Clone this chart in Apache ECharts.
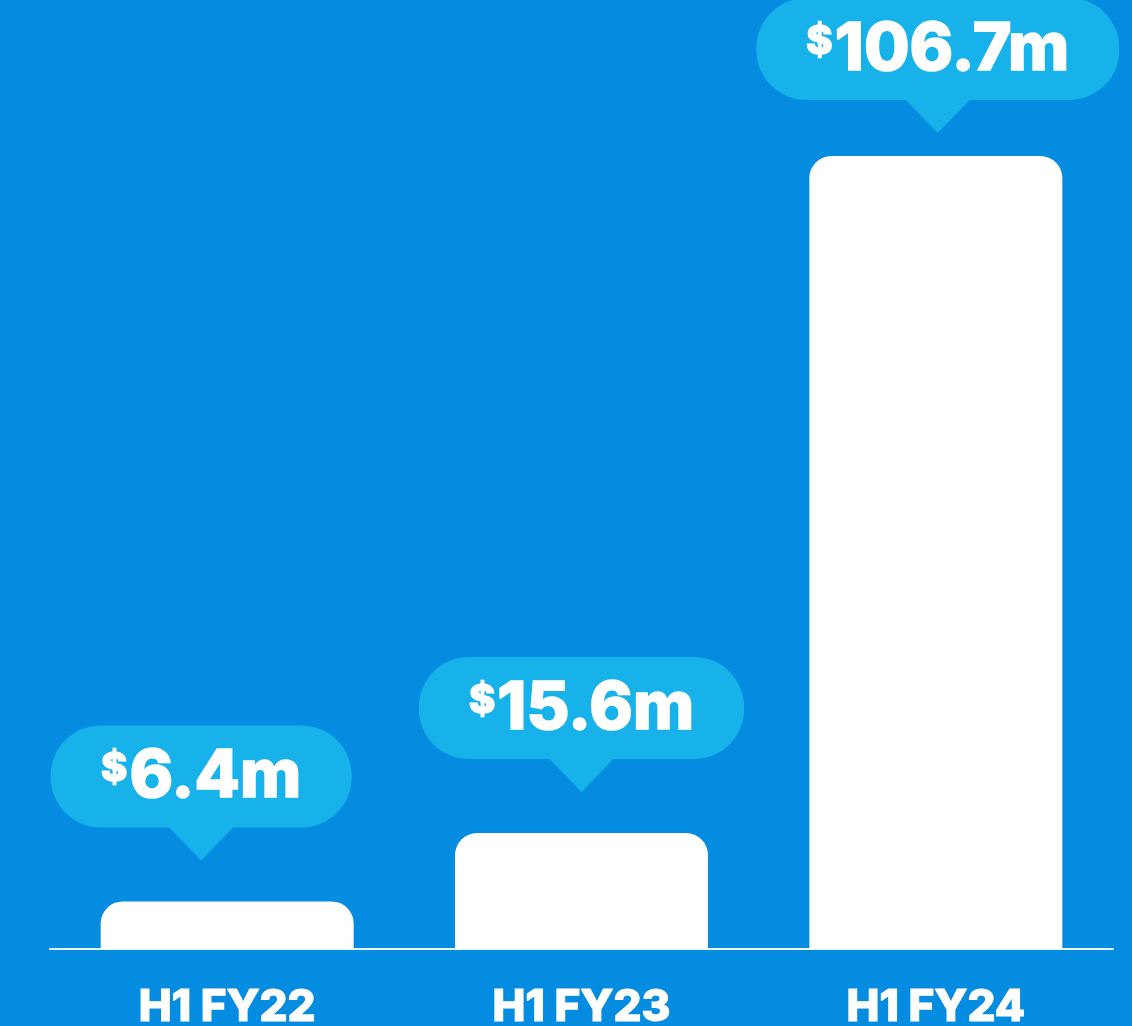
<!DOCTYPE html>
<html>
<head>
<meta charset="utf-8">
<script src="https://cdn.jsdelivr.net/npm/echarts@6/dist/echarts.min.js"></script>
<style>
  html, body { margin: 0; padding: 0; background: #048ce0; }
  #chart { width: 1132px; height: 1026px; }
</style>
</head>
<body>
<div id="chart"></div>
<script>
// data
var categories = ['H1 FY22', 'H1 FY23', 'H1 FY24'];
var values = [6.4, 15.6, 106.7];
var currency = '$';
var unit = 'm';

var FONT = 'Inter';
var WEIGHT = 800;
// small horizontal nudge of each callout, like in the original artwork
var calloutDx = [-26, 0, 2];

var measureCtx = document.createElement('canvas').getContext('2d');
function textWidth(txt, size) {
  measureCtx.font = WEIGHT + ' ' + size + 'px ' + FONT;
  return measureCtx.measureText(txt).width;
}

var chart = echarts.init(document.getElementById('chart'));

// callout bubble above each bar
function renderCallout(params, api) {
  var pt = api.coord([api.value(0), api.value(1)]);
  var cx = pt[0] + (calloutDx[params.dataIndex] || 0);
  var bubbleH = 102, triH = 33, gap = 41;
  var top = pt[1] - gap - triH - bubbleH;
  if (top < -2) top = -2; // keep it on the page
  var bottom = top + bubbleH;
  var num = api.value(1).toFixed(1) + unit;
  var wSym = textWidth(currency, 40);
  var wNum = textWidth(num, 66);
  var total = wSym + wNum + 2;
  var bubbleW = Math.max(301, total + 100);
  var x0 = cx - total / 2;
  var midY = top + bubbleH / 2;
  return {
    type: 'group',
    children: [
      {
        type: 'rect',
        shape: { x: cx - bubbleW / 2, y: top, width: bubbleW, height: bubbleH, r: 50 },
        style: { fill: '#17b2ea' }
      },
      {
        type: 'polygon',
        shape: { points: [[cx - 33, bottom - 1], [cx + 33, bottom - 1], [cx, bottom + triH]] },
        style: { fill: '#17b2ea' }
      },
      {
        type: 'text',
        style: {
          text: currency, x: x0, y: midY - 27,
          font: WEIGHT + ' 40px ' + FONT, fill: '#fff',
          stroke: '#fff', lineWidth: 1.5,
          textAlign: 'left', textVerticalAlign: 'top'
        }
      },
      {
        type: 'text',
        style: {
          text: num, x: x0 + wSym + 2, y: midY + 1,
          font: WEIGHT + ' 66px ' + FONT, fill: '#fff',
          stroke: '#fff', lineWidth: 1.6,
          textAlign: 'left', textVerticalAlign: 'middle'
        }
      }
    ]
  };
}

var option = {
  backgroundColor: '#048ce0',
  animation: false,
  grid: { left: 50, right: 19, top: 156, bottom: 77, outerBoundsMode: 'none' },
  xAxis: {
    type: 'category',
    data: categories,
    axisTick: { show: false },
    axisLine: { lineStyle: { color: '#e8f7fe', width: 2 } },
    axisLabel: {
      color: '#fff', fontSize: 44, fontWeight: WEIGHT, fontFamily: FONT, margin: 37,
      textBorderColor: '#fff', textBorderWidth: 1.2
    }
  },
  yAxis: {
    type: 'value', min: 0, max: 106.7,
    show: false, splitLine: { show: false }
  },
  series: [
    {
      type: 'bar',
      data: values,
      barWidth: 253,
      itemStyle: { color: '#ffffff', borderRadius: [22, 22, 0, 0] },
      emphasis: { disabled: true }
    },
    {
      type: 'custom',
      data: values.map(function (v, i) { return [i, v]; }),
      encode: { x: 0, y: 1 },
      renderItem: renderCallout,
      z: 5
    }
  ]
};
chart.setOption(option);
</script>
</body>
</html>
